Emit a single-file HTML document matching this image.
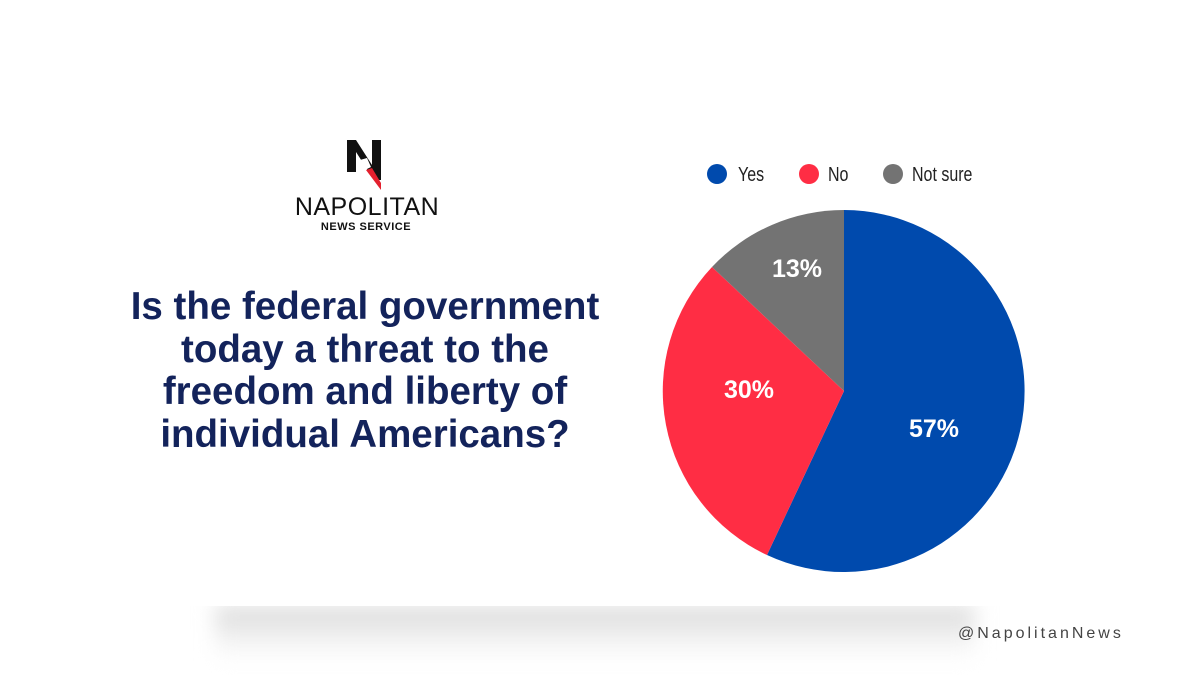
<!DOCTYPE html>
<html><head><meta charset="utf-8"><style>
body{margin:0;width:1200px;height:675px;background:#fff;position:relative;overflow:hidden;font-family:"Liberation Sans",sans-serif}
.shadow{position:absolute;left:215px;top:606px;width:760px;height:55px;background:linear-gradient(#d8d8d8,#f3f3f3 60%,#fff);filter:blur(10px)}
.card{position:absolute;left:0;top:0;width:1200px;height:606px;background:#fff}
.title{position:absolute;left:65px;width:600px;top:286px;text-align:center;color:#13235b;font-weight:bold;font-size:38.5px;line-height:42.5px;white-space:nowrap}
.handle{position:absolute;left:958px;top:625px;font-size:16px;letter-spacing:3px;color:#444}
</style></head><body>
<div class="shadow"></div>
<div class="card"></div>
<svg style="position:absolute;left:0;top:0" width="1200" height="675">
<g>
<polygon points="347,140 356,140 372,165 372,140 381,140 381,180 374,180 356,152 356,172 347,172" fill="#111"/>
<polygon points="366,170 372,168 381,183 381,190" fill="#e3202e"/>
<polygon points="360,160 367,158 371,167 365,170" fill="#fff"/>
<text x="367" y="215" text-anchor="middle" font-size="25" fill="#111" font-family="Liberation Sans" letter-spacing="0.5">NAPOLITAN</text>
<text x="366" y="230" text-anchor="middle" font-size="11" font-weight="bold" fill="#111" font-family="Liberation Sans" letter-spacing="0.5">NEWS SERVICE</text>
</g>
<path d="M844,391 L844,210 A181,181 0 1 1 767,555 Z" fill="#004aad"/>
<path d="M844,391 L767,555 A181,181 0 0 1 712,267 Z" fill="#ff2d44"/>
<path d="M844,391 L712,267 A181,181 0 0 1 844,210 Z" fill="#737373"/>
<g font-weight="bold" font-size="25" fill="#fff" text-anchor="middle">
<text x="934" y="437">57%</text>
<text x="749" y="398">30%</text>
<text x="797" y="277">13%</text>
</g>
<circle cx="717" cy="174" r="10" fill="#004aad"/>
<circle cx="809" cy="174" r="10" fill="#ff2d44"/>
<circle cx="893" cy="174" r="10" fill="#737373"/>
<g font-size="20" fill="#222">
<text x="738" y="181" transform="translate(738 0) scale(0.8 1) translate(-738 0)">Yes</text>
<text x="828" y="181" transform="translate(828 0) scale(0.8 1) translate(-828 0)">No</text>
<text x="912" y="181" transform="translate(912 0) scale(0.8 1) translate(-912 0)">Not sure</text>
</g>
</svg>
<div class="title">Is the federal government<br>today a threat to the<br>freedom and liberty of<br>individual Americans?</div>
<div class="handle">@NapolitanNews</div>
</body></html>
